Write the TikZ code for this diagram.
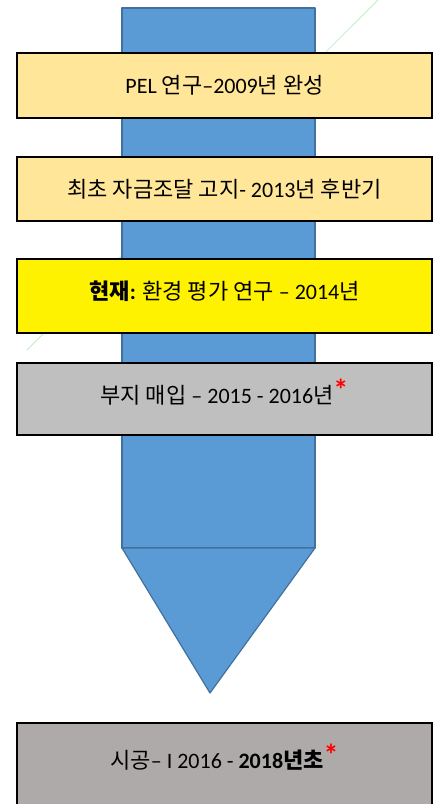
\documentclass[tikz,border=0pt]{standalone}
\usepackage{fontspec}
\setmainfont{Carlito}
\newfontfamily\krfont{Noto Sans CJK KR}
\newcommand{\ko}[1]{{\krfont #1}}
\newcommand{\redstar}{\raisebox{3pt}{\textcolor{red}{\fontsize{30}{30}\selectfont\bfseries *}}}
\usepackage{tikz}

\definecolor{shaftblue}{HTML}{5B9BD5}
\definecolor{shaftline}{HTML}{41719C}
\definecolor{paleorange}{HTML}{FFE699}
\definecolor{midgray}{HTML}{BFBFBF}
\definecolor{darkgray}{HTML}{AEAAAA}

\begin{document}
\begin{tikzpicture}[x=1pt,y=-1pt]
	
	\tikzset{stage/.style = {shape=rectangle,draw=black,line width=1.6pt,minimum width=415pt,minimum height=65pt,font=\fontsize{22}{26}\selectfont}}
	\tikzset{shaft/.style = {fill=shaftblue,draw=shaftline,line width=1.2pt,line join=round}}
	
	\clip (0,0) rectangle (441,804);
	\fill[white] (0,0) rectangle (441,804);
	
	% faint slide streak
	\draw[green!50!gray,opacity=0.3,line width=0.8pt] (378,0) -- (27,350);
	
	% arrow body
	\draw[shaft] (122,8) rectangle (315,548);
	\draw[shaft] (122,548) -- (315,548) -- (210,693) -- cycle;
	
	\node[stage,fill=paleorange] (s1) at (224.5,85.5) {PEL \ko{연구}–2009\ko{년 완성}};
	\node[stage,fill=paleorange,minimum height=64pt] (s2) at (224.5,189) {\ko{최초 자금조달 고지}- 2013\ko{년 후반기}};
	\node[stage,fill=yellow,minimum height=74pt,text depth=12pt] (s3) at (224.5,296) {\textbf{\ko{현재}:} \ko{환경 평가 연구} – 2014\ko{년}};
	\node[stage,fill=midgray,minimum height=72pt,text depth=16pt] (s4) at (224.5,399) {\ko{부지 매입} – 2015 - 2016\ko{년}\redstar};
	
	\node[stage,fill=darkgray,minimum height=100pt] (s5) at (224.5,773) {};
	\node[font=\fontsize{22}{26}\selectfont] (t5) at (224.5,757) {\ko{시공}– I 2016 - \textbf{2018\ko{년초}}\redstar};
	
\end{tikzpicture}
\end{document}
